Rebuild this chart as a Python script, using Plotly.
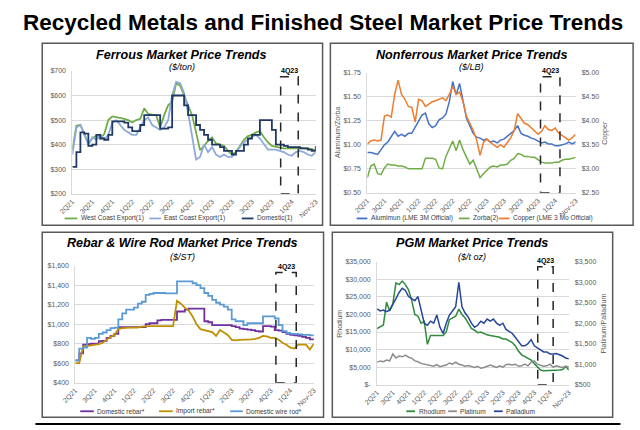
import plotly.graph_objects as go

W, H = 640, 430
def px(x): return x / W
def py(y): return 1 - y / H

FONT = "Liberation Sans"

# ---------------- data ----------------
x_idx = list(range(62))
tick_pos = [0, 5, 10, 15, 20, 25, 30, 35, 40, 45, 50, 55, 61]
tick_labels = ["2Q21", "3Q21", "4Q21", "1Q22", "2Q22", "3Q22", "4Q22",
               "1Q23", "2Q23", "3Q23", "4Q23", "1Q24", "Nov-23"]

# Ferrous ($/ton)
west_coast = [380, 477, 481, 444, 404, 425, 437, 424, 444, 500, 515, 512, 510, 505, 500, 490,
              500, 505, 548, 525, 522, 520, 470, 520, 560, 575, 650, 640, 600, 560, 520, 450,
              378, 395, 415, 430, 405, 400, 395, 375, 360, 370, 395, 420, 435, 440, 450, 455,
              430, 410, 395, 390, 388, 385, 385, 383, 385, 390, 385, 385, 380, 378]
east_coast = [360, 470, 480, 440, 400, 430, 420, 440, 420, 440, 490, 500, 480, 460, 450, 440,
              440, 470, 500, 510, 480, 470, 460, 470, 500, 600, 655, 650, 610, 530, 430, 340,
              350, 400, 370, 390, 360, 350, 360, 350, 350, 370, 390, 410, 420, 430, 440, 425,
              400, 380, 380, 380, 375, 370, 360, 355, 370, 375, 370, 360, 355, 370]
domestic = [310, 370, 450, 445, 395, 400, 440, 425, 420, 440, 495, 495, 495, 490, 470, 455,
            455, 480, 520, 520, 520, 520, 465, 465, 470, 600, 600, 600, 560, 520, 520, 480,
            460, 440, 420, 400, 400, 390, 375, 375, 360, 375, 375, 400, 425, 440, 440, 500,
            500, 500, 460, 400, 400, 395, 390, 390, 390, 385, 385, 380, 375, 395]

# Nonferrous ($/LB)
aluminum = [0.92, 0.92, 0.91, 0.90, 0.95, 1.00, 1.03, 1.08, 1.14, 1.09, 1.11, 1.09, 1.12, 1.12,
            1.18, 1.25, 1.31, 1.33, 1.22, 1.18, 1.20, 1.26, 1.28, 1.32, 1.45, 1.66, 1.52, 1.64,
            1.45, 1.28, 1.20, 1.12, 1.08, 1.07, 1.05, 1.06, 1.03, 1.04, 1.02, 1.05, 1.06, 1.09,
            1.12, 1.15, 1.20, 1.12, 1.10, 1.09, 1.07, 1.06, 1.04, 1.02, 1.03, 1.01, 1.01, 0.99,
            0.99, 1.00, 1.01, 1.03, 1.01, 1.03]
zorba = [0.66, 0.78, 0.80, 0.70, 0.69, 0.76, 0.80, 0.79, 0.79, 0.78, 0.78, 0.77, 0.75, 0.75,
         0.75, 0.75, 0.75, 0.86, 0.86, 0.86, 0.85, 0.76, 0.75, 0.88, 0.96, 1.04, 0.94, 1.05,
         0.95, 0.88, 0.80, 0.84, 0.74, 0.66, 0.70, 0.74, 0.77, 0.78, 0.77, 0.79, 0.79, 0.80,
         0.84, 0.86, 0.91, 0.90, 0.88, 0.88, 0.87, 0.87, 0.84, 0.82, 0.81, 0.81, 0.81, 0.82,
         0.82, 0.84, 0.85, 0.85, 0.86, 0.87]
copper = [3.52, 3.58, 3.60, 3.58, 3.60, 4.10, 4.12, 4.08, 4.55, 4.85, 4.55, 4.45, 4.30, 4.28,
          3.98, 4.45, 4.42, 4.30, 4.35, 4.40, 4.42, 4.45, 4.48, 4.42, 4.55, 4.72, 4.55, 4.60,
          4.40, 4.10, 3.95, 3.80, 3.60, 3.28, 3.55, 3.62, 3.55, 3.50, 3.45, 3.50, 3.45, 3.55,
          3.65, 3.80, 4.15, 4.05, 3.95, 3.92, 3.85, 3.80, 3.72, 3.78, 3.90, 3.82, 3.80, 3.85,
          3.75, 3.70, 3.65, 3.60, 3.65, 3.72]

# Rebar & wire rod ($/ST)
domestic_rebar = [630, 700, 790, 795, 800, 800, 825, 830, 860, 880, 900, 970, 970, 970, 970, 970,
                  970, 970, 1000, 1010, 1010, 1040, 1045, 1045, 1045, 1045, 1130, 1130, 1150, 1160,
                  1160, 1160, 1160, 1030, 1020, 990, 990, 990, 990, 990, 980, 970, 955, 950, 945,
                  940, 930, 925, 980, 980, 975, 940, 935, 920, 900, 890, 885, 880, 870, 860, 845, 840]
import_rebar = [600, 600, 770, 775, 780, 785, 795, 810, 840, 870, 890, 950, 960, 965, 965, 965,
                965, 975, 980, 980, 980, 980, 980, 980, 980, 980, 1240, 1210, 1170, 1140, 1080,
                1000, 950, 940, 935, 920, 880, 940, 915, 890, 840, 835, 840, 840, 845, 845, 850,
                860, 880, 875, 860, 860, 840, 810, 790, 760, 750, 790, 790, 790, 740, 800]
wire_rod = [630, 750, 760, 860, 850, 860, 900, 915, 940, 960, 965, 1050, 1110, 1150, 1150, 1170,
            1210, 1230, 1300, 1310, 1320, 1320, 1320, 1315, 1315, 1315, 1440, 1440, 1440, 1440,
            1420, 1400, 1370, 1320, 1290, 1250, 1220, 1200, 1180, 1150, 1050, 1030, 1030, 990,
            1010, 1010, 1010, 1010, 1080, 1080, 1080, 1060, 990, 930, 910, 900, 900, 895, 890,
            890, 885, 880]

# PGM ($/t oz)
rhodium = [16000, 16500, 17000, 23500, 21000, 23000, 29000, 28500, 29500, 28500, 27000, 24000,
           20000, 19500, 17500, 18000, 11500, 14000, 14000, 13800, 14000, 14000, 15000, 18500,
           19000, 19500, 21500, 20000, 19000, 17500, 16000, 15500, 14800, 15000, 14500, 14200,
           14000, 13800, 13500, 13500, 13000, 13000, 12500, 12000, 11000, 9500, 8500, 8000,
           7500, 7000, 6000, 5000, 4200, 4000, 4000, 4000, 4000, 4100, 4200, 4300, 5200, 4200]
platinum = [1050, 1080, 1060, 1100, 1080, 1250, 1150, 1200, 1180, 1220, 1170, 1150, 1080, 1060,
            1020, 1000, 980, 960, 950, 990, 940, 960, 980, 1030, 1000, 1050, 1000, 980, 950, 970,
            940, 920, 950, 900, 920, 950, 980, 950, 920, 960, 930, 990, 1000, 980, 1000, 950,
            960, 1000, 960, 1050, 1080, 1000, 980, 950, 960, 1000, 930, 960, 940, 920, 950, 930]
palladium = [2350, 2300, 2320, 2280, 2320, 2450, 2600, 2750, 2850, 2800, 2650, 2600, 2550, 2650,
             2300, 2000, 1950, 2050, 2000, 2200, 1900, 1750, 2000, 2200, 2300, 2400, 3000, 2400,
             2250, 2150, 2000, 1900, 1950, 2050, 2000, 2100, 2050, 2100, 2000, 1950, 2000, 1850,
             1800, 1750, 1650, 1550, 1450, 1450, 1500, 1600, 1450, 1400, 1350, 1300, 1300, 1250,
             1250, 1260, 1230, 1200, 1150, 1130]

# ---------------- figure ----------------
fig = go.Figure()

def line(y, name, color, xa, ya, width=1.6, shape="linear"):
    fig.add_trace(go.Scatter(x=x_idx, y=y, name=name, mode="lines", xaxis=xa, yaxis=ya,
                             line=dict(color=color, width=width, shape=shape),
                             showlegend=False, hoverinfo="skip"))

C = dict(west="#70ad47", east="#8eaadc", dom="#1f3864",
         alu="#4472c4", zor="#70ad47", cop="#ed7d31",
         drb="#7030a0", irb="#bf9000", wrd="#5b9bd5",
         rho="#2f8a3c", pla="#8c8c8c", pal="#27459a")

line(west_coast, "West Coast Export(1)", C["west"], "x", "y", 1.8)
line(east_coast, "East Coast Export(1)", C["east"], "x", "y", 1.8)
line(domestic, "Domestic(1)", C["dom"], "x", "y", 1.8, "hv")

line(aluminum, "Alumimun (LME 3M Official)", C["alu"], "x2", "y2", 1.5)
line(zorba, "Zorba(2)", C["zor"], "x2", "y2", 1.5)
line(copper, "Copper (LME 3 Mo Official)", C["cop"], "x2", "y3", 1.5)

line(domestic_rebar, "Domestic rebar*", C["drb"], "x3", "y4", 1.8, "hv")
line(import_rebar, "Import rebar*", C["irb"], "x3", "y4", 1.8)
line(wire_rod, "Domestic wire rod*", C["wrd"], "x3", "y4", 1.8, "hv")

line(rhodium, "Rhodium", C["rho"], "x4", "y5", 1.5)
line(platinum, "Platinum", C["pla"], "x4", "y6", 1.5)
line(palladium, "Palladium", C["pal"], "x4", "y6", 1.5)

TICKF = dict(family=FONT, size=7, color="#595959")
GRID = "#d9d9d9"

def xax(domain, anchor):
    return dict(domain=domain, anchor=anchor, range=[0, 61], tickvals=tick_pos,
                ticktext=tick_labels, tickangle=-45, tickfont=TICKF, showgrid=False,
                showline=True, linecolor=GRID, linewidth=1, zeroline=False, ticks="",
                fixedrange=True)

def yax(domain, anchor, rng, **kw):
    d = dict(domain=domain, anchor=anchor, range=rng, tickfont=TICKF, showgrid=True,
             gridcolor=GRID, gridwidth=1, zeroline=False, showline=True, linecolor=GRID,
             ticks="", ticklabelstandoff=4, fixedrange=True)
    d.update(kw)
    return d

d1x, d1y = [px(60), px(310)], [py(193), py(68)]
d2x, d2y = [px(363), px(577)], [py(192), py(70)]
d3x, d3y = [px(63), px(308)], [py(385), py(266)]
d4x, d4y = [px(373), px(570)], [py(387), py(262)]

rho_ticks = list(range(0, 35001, 5000))
rho_text = ["$-"] + [f"${v:,}" for v in rho_ticks[1:]]

fig.update_layout(
    width=W, height=H, margin=dict(l=0, r=0, t=0, b=0),
    paper_bgcolor="white", plot_bgcolor="white",
    font=dict(family=FONT, color="#404040"),
    xaxis=xax(d1x, "y"),
    yaxis=yax(d1y, "x", [200, 700], dtick=100, tickprefix="$"),
    xaxis2=xax(d2x, "y2"),
    yaxis2=yax(d2y, "x2", [0.5, 1.75], dtick=0.25, tickformat="$.2f"),
    yaxis3=dict(domain=d2y, anchor="x2", overlaying="y2", side="right", range=[2.5, 5.0],
                dtick=0.5, tickformat="$.2f", tickfont=TICKF, showgrid=False, zeroline=False,
                ticklabelstandoff=5, fixedrange=True),
    xaxis3=xax(d3x, "y4"),
    yaxis4=yax(d3y, "x3", [400, 1600], dtick=200, tickformat="$,.0f"),
    xaxis4=xax(d4x, "y5"),
    yaxis5=yax(d4y, "x4", [0, 35000], tickvals=rho_ticks, ticktext=rho_text),
    yaxis6=dict(domain=d4y, anchor="x4", overlaying="y5", side="right", range=[500, 3500],
                dtick=500, tickformat="$,.0f", tickfont=TICKF, showgrid=False, zeroline=False,
                ticklabelstandoff=5, fixedrange=True),
    showlegend=False,
)

shapes = []
annotations = []

def ann(x, y, text, size, color="#000000", angle=0, xanchor="center", yanchor="middle"):
    annotations.append(dict(x=px(x), y=py(y), xref="paper", yref="paper", text=text,
                            showarrow=False, textangle=angle, xanchor=xanchor, yanchor=yanchor,
                            font=dict(family=FONT, size=size, color=color)))

# main title
ann(317, 19, "<b>Recycled Metals and Finished Steel Market Price Trends</b>", 22.5)

# panel boxes
for (x0, y0, x1, y1) in [(29, 40, 317, 225), (325, 40, 636, 225),
                         (29, 232, 318, 420), (327, 232, 615, 420)]:
    shapes.append(dict(type="rect", xref="paper", yref="paper", x0=px(x0), x1=px(x1),
                       y0=py(y1), y1=py(y0), line=dict(color="#595959", width=1.5)))
# page separator line
shapes.append(dict(type="line", xref="paper", yref="paper", x0=px(22), x1=px(623),
                   y0=py(427), y1=py(427), line=dict(color="#000000", width=2)))

# panel titles
ann(172, 52, "<b><i>Ferrous Market Price Trends</i></b>", 12.6)
ann(173, 64, "<i>($/ton)</i>", 9)
ann(470, 52, "<b><i>Nonferrous Market Price Trends</i></b>", 12.6)
ann(470, 64, "<i>($/LB)</i>", 9)
ann(173, 243, "<b><i>Rebar &amp; Wire Rod Market Price Trends</i></b>", 12.6)
ann(173, 257, "<i>($/ST)</i>", 9)
ann(470, 243, "<b><i>PGM Market Price Trends</i></b>", 12.6)
ann(470, 257, "<i>($/t oz)</i>", 9)

# axis titles
ann(333, 131, "Aluminum/Zorba", 7, "#595959", -90)
ann(607, 131, "Copper", 7, "#595959", -90)
ann(335, 325, "Rhodium", 7, "#595959", -90)
ann(606, 325, "Platinum/Palladium", 7, "#595959", -90)

# 4Q23 dashed boxes (data coords)
for xa, ya, x0, x1, ytop, ybot in [("x", "y", 52.2, 56.6, 676, 200),
                                   ("x2", "y2", 50.7, 56.4, 1.71, 0.5),
                                   ("x3", "y4", 51.3, 56.5, 1529, 400),
                                   ("x4", "y5", 51.1, 56.0, 33600, 0)]:
    shapes.append(dict(type="rect", xref=xa, yref=ya, x0=x0, x1=x1, y0=ybot, y1=ytop,
                       line=dict(color="#262626", width=1.5, dash="dash")))
    annotations.append(dict(x=(x0 + x1) / 2, y=ytop, xref=xa, yref=ya, text="<b>4Q23</b>",
                            showarrow=False, yanchor="bottom", yshift=0,
                            font=dict(family=FONT, size=7, color="#000000")))

# manual legends
def legend_item(x0, x1, y, color, text):
    shapes.append(dict(type="line", xref="paper", yref="paper", x0=px(x0), x1=px(x1),
                       y0=py(y), y1=py(y), line=dict(color=color, width=1.8)))
    ann(x1 + 1.5, y, text, 6.6, "#404040", xanchor="left")

legend_item(52, 65, 218, C["west"], "West Coast Export(1)")
legend_item(139, 151, 218, C["east"], "East Coast Export(1)")
legend_item(234, 246, 218, C["dom"], "Domestic(1)")

legend_item(352, 363, 218, C["alu"], "Alumimun (LME 3M Official)")
legend_item(457, 468, 218, C["zor"], "Zorba(2)")
legend_item(498, 509, 218, C["cop"], "Copper (LME 3 Mo Official)")

legend_item(68, 82, 414, C["drb"], "Domestic rebar*")
legend_item(149, 163, 414, C["irb"], "Import rebar*")
legend_item(222, 235, 414, C["wrd"], "Domestic wire rod*")

legend_item(403, 412, 414, C["rho"], "Rhodium")
legend_item(446, 455, 414, C["pla"], "Platinum")
legend_item(493, 502, 414, C["pal"], "Palladium")

fig.update_layout(shapes=shapes, annotations=annotations)
fig.write_html("out.html", config={"displayModeBar": False},
               post_script="document.body.style.margin='0px';document.body.style.overflow='hidden';")
